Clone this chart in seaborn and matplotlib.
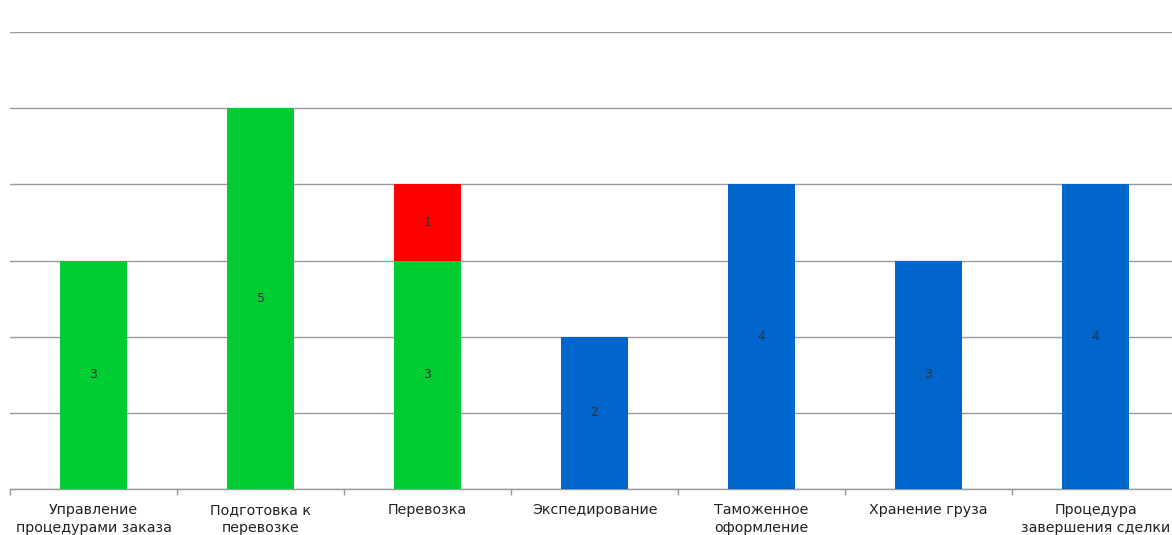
import matplotlib
matplotlib.use("Agg")
import matplotlib.pyplot as plt
import seaborn as sns
import numpy as np

categories = ["Управление\nпроцедурами заказа", "Подготовка к\nперевозке", "Перевозка",
              "Экспедирование", "Таможенное\nоформление", "Хранение груза",
              "Процедура\nзавершения сделки"]
green_vals = [3, 5, 3, 0, 0, 0, 0]
red_vals = [0, 0, 1, 0, 0, 0, 0]
blue_vals = [0, 0, 0, 2, 4, 3, 4]

GREEN = "#00CC33"
RED = "#FF0000"
BLUE = "#0066CC"

sns.set_theme(style="white")
plt.rcParams['font.family'] = ['DejaVu Sans']

fig = plt.figure(figsize=(11.72, 5.35), dpi=100)
ax = fig.add_axes([10/1172, 46/535, 1169/1172, 457/535])

totals = [g + r for g, r in zip(green_vals, red_vals)]
bar_kw = dict(width=0.4, saturation=1, ax=ax, zorder=3, linewidth=0)
sns.barplot(x=categories, y=totals, color=RED, **bar_kw)
sns.barplot(x=categories, y=green_vals, color=GREEN, **bar_kw)
sns.barplot(x=categories, y=blue_vals, color=BLUE, **bar_kw)

for i in range(len(categories)):
    for bottom, val in [(0, green_vals[i]), (green_vals[i], red_vals[i]), (0, blue_vals[i])]:
        if val:
            ax.text(i, bottom + val / 2, str(val), ha="center", va="center",
                    fontsize=9, color="#333333", zorder=4)

ax.set_ylim(0, 6)
ax.set_xlim(-0.5, len(categories) - 0.5)
ax.set_yticks(range(0, 7))
ax.yaxis.grid(True, color="#999999", linewidth=1)
ax.set_axisbelow(True)
ax.tick_params(axis="y", left=False, labelleft=False)
for s in ["top", "right", "left"]:
    ax.spines[s].set_visible(False)
ax.spines["bottom"].set_color("#999999")
ax.spines["bottom"].set_linewidth(1)

ax.set_xticks(np.arange(len(categories)))
ax.set_xticklabels(categories, fontsize=10.3, color="#222222", linespacing=1.35)
ax.set_xticks(np.arange(len(categories) + 1) - 0.5, minor=True)
ax.tick_params(axis="x", which="major", length=0, pad=10)
ax.tick_params(axis="x", which="minor", length=4, color="#999999", width=1, bottom=True)
for t in ax.get_xticklabels():
    t.set_va("top")

fig.savefig("out.png", dpi=100)
